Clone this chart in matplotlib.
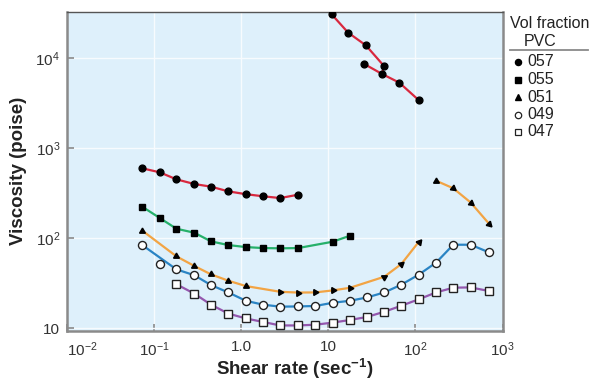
import matplotlib
matplotlib.use("Agg")
import matplotlib.pyplot as plt
from matplotlib.lines import Line2D

plt.rcParams['font.family'] = ['Liberation Sans', 'DejaVu Sans']
plt.rcParams['mathtext.fontset'] = 'custom'
plt.rcParams['mathtext.rm'] = 'Liberation Sans'
plt.rcParams['mathtext.it'] = 'Liberation Sans:italic'
plt.rcParams['mathtext.bf'] = 'Liberation Sans:bold'

# ---------------- data ----------------
x057_low = [0.073, 0.116, 0.18, 0.29, 0.45, 0.71, 1.13, 1.78, 2.8, 4.5]
y057_low = [595, 537, 449, 398, 372, 330, 307, 291, 278, 303]
x057_run1 = [10.9, 16.9, 27.0, 43.3]
y057_run1 = [30600, 19100, 13800, 8200]
x057_run2 = [25.8, 41.4, 65.3, 108.8]
y057_run2 = [8580, 6640, 5320, 3410]

x055 = [0.073, 0.116, 0.18, 0.29, 0.45, 0.71, 1.13, 1.78, 2.8, 4.5, 11.2, 17.7]
y055 = [223, 167, 127, 114.5, 91.8, 83.6, 79.4, 77.4, 76.9, 77.4, 91, 106]

x051_low = [0.073, 0.18, 0.29, 0.45, 0.71, 1.13, 2.8, 4.5, 7.1, 11.2, 17.7, 44, 68.8, 109.6]
y051_low = [121, 62.7, 48.9, 39.5, 33.6, 29.3, 25.3, 24.8, 24.9, 26.2, 28.0, 37.2, 51.4, 91]
x051_high = [173, 272, 431, 701]
y051_high = [433, 357, 248, 144]

x049 = [0.073, 0.116, 0.18, 0.29, 0.45, 0.71, 1.13, 1.78, 2.8, 4.5, 7.1, 11.2, 17.7,
        27.9, 44, 68.8, 109.6, 173, 272, 431, 701]
y049 = [83.6, 51.4, 44.9, 38.6, 30.0, 24.9, 20.1, 18.2, 17.3, 17.4, 17.6, 19.1, 20.1,
        21.9, 24.9, 30.3, 39.3, 53.4, 84.3, 84.3, 69.3]
outlier049 = 1  # point not on the fitted curve

x047 = [0.18, 0.29, 0.45, 0.71, 1.13, 1.78, 2.8, 4.5, 7.1, 11.2, 17.7, 27.9, 44, 68.8,
        109.6, 173, 272, 431, 701]
y047 = [30.7, 24.1, 18.2, 14.5, 12.8, 11.7, 10.7, 10.7, 10.9, 11.5, 12.3, 13.3, 15.2,
        17.7, 20.9, 24.9, 28.1, 28.3, 25.8]

legend_labels = ['057', '055', '051', '049', '047']
xtick_vals = [1e-2, 1e-1, 1, 10, 1e2, 1e3]
xtick_labels = [r'$10^{-2}$', r'$10^{-1}$', '1.0', '10', r'$10^{2}$', r'$10^{3}$']
ytick_vals = [10, 1e2, 1e3, 1e4]
ytick_labels = ['10', r'$10^{2}$', r'$10^{3}$', r'$10^{4}$']

# ---------------- style ----------------
C057 = '#d8283e'
C055 = '#26b06a'
C051 = '#f2a444'
C049 = '#2a84c4'
C047 = '#9457ad'
LW = 1.6

fig = plt.figure(figsize=(5.90, 3.82), dpi=100)
ax = fig.add_axes([0.1136, 0.1348, 0.7381, 0.8338])
ax.set_facecolor('#def0fb')
ax.set_xscale('log')
ax.set_yscale('log')
ax.set_xlim(1e-2, 1e3)
ax.set_ylim(9.4, 32400)

ax.grid(True, which='major', color='#f7fbfe', lw=1.0, zorder=0)
ax.minorticks_off()
ax.set_axisbelow(True)

filled = dict(mfc='black', mec='black', ls='none', zorder=4)
opened = dict(mfc='white', mec='#222222', mew=1.0, ls='none', zorder=4)

# 057
ax.plot(x057_low, y057_low, color=C057, lw=LW, zorder=3)
ax.plot(x057_low, y057_low, marker='o', ms=4.9, **filled)
ax.plot(x057_run1, y057_run1, color=C057, lw=LW, zorder=3)
ax.plot(x057_run2, y057_run2, color=C057, lw=LW, zorder=3)
ax.plot([x057_run1[-1], x057_run2[1]], [y057_run1[-1], y057_run2[1]], color=C057, lw=LW, zorder=3)
ax.plot(x057_run1, y057_run1, marker='o', ms=4.9, **filled)
ax.plot(x057_run2, y057_run2, marker='o', ms=4.9, **filled)

# 055
ax.plot(x055, y055, color=C055, lw=LW, zorder=3)
ax.plot(x055, y055, marker='s', ms=4.7, **filled)

# 051 with triangles oriented along the curve
ang051_low = [0, 0, 0, 0, 0, 0, -90, -90, -90, -90, -90, -60, -50, -40]
ang051_high = [120, -128, -128, -135]
ax.plot(x051_low, y051_low, color=C051, lw=LW, zorder=3)
ax.plot(x051_high, y051_high, color=C051, lw=LW, zorder=3)
for xs, ys, angs in ((x051_low, y051_low, ang051_low), (x051_high, y051_high, ang051_high)):
    for xv, yv, a in zip(xs, ys, angs):
        ax.plot([xv], [yv], marker=(3, 0, a), ms=4.9, **filled)

# 049
x049_line = [v for i, v in enumerate(x049) if i != outlier049]
y049_line = [v for i, v in enumerate(y049) if i != outlier049]
ax.plot(x049_line, y049_line, color=C049, lw=LW, zorder=3)
ax.plot(x049, y049, marker='o', ms=5.8, **opened)

# 047
ax.plot(x047, y047, color=C047, lw=LW, zorder=3)
ax.plot(x047, y047, marker='s', ms=5.2, **opened)

# axes styling
for side in ['left', 'bottom', 'right']:
    ax.spines[side].set_color('#8a8a8a')
    ax.spines[side].set_linewidth(1.8)
ax.spines['top'].set_color('#555555')
ax.spines['top'].set_linewidth(1.0)

ax.set_xticks(xtick_vals)
ax.set_xticklabels(xtick_labels)
ax.set_yticks(ytick_vals)
ax.set_yticklabels(ytick_labels)
ax.tick_params(axis='both', which='major', direction='in', length=5, width=1.2,
               color='#8a8a8a', labelcolor='#333333', labelsize=11)
ax.tick_params(axis='x', pad=7)
ax.tick_params(axis='y', pad=5)
ax.get_xticklabels()[0].set_horizontalalignment('left')

ax.set_xlabel(r'Shear rate (sec$^{\mathbf{-1}}$)', fontsize=13.5, fontweight='bold', color='#222222')
ax.xaxis.set_label_coords(0.523, -0.082)
ax.set_ylabel('Viscosity (poise)', fontsize=13.5, fontweight='bold', color='#222222')
ax.yaxis.set_label_coords(-0.093, 0.5)

# legend (manual)
W, H = 590.0, 382.0
def fx(px):
    return px / W
def fy(py):
    return 1 - py / H

fig.text(fx(510), fy(24), 'Vol fraction', fontsize=11.5, color='#222222', ha='left', va='center')
fig.text(fx(540), fy(42), 'PVC', fontsize=11.5, color='#222222', ha='center', va='center')
fig.add_artist(Line2D([fx(510), fx(588)], [fy(50), fy(50)], transform=fig.transFigure,
                      color='#8a8a8a', lw=1.3))
leg_markers = [dict(marker='o', mfc='black', mec='black', ms=4.4),
               dict(marker='s', mfc='black', mec='black', ms=4.0),
               dict(marker='^', mfc='black', mec='black', ms=4.4),
               dict(marker='o', mfc='white', mec='#222222', mew=0.9, ms=4.6),
               dict(marker='s', mfc='white', mec='#222222', mew=0.9, ms=4.6)]
leg_y = [62, 79.5, 97, 114.5, 132]
for lab, mk, yy in zip(legend_labels, leg_markers, leg_y):
    fig.add_artist(Line2D([fx(518)], [fy(yy)], transform=fig.transFigure, ls='none', **mk))
    fig.text(fx(527), fy(yy), lab, fontsize=11.5, color='#222222', ha='left', va='center')

fig.savefig('out.png', dpi=100, facecolor='white')
